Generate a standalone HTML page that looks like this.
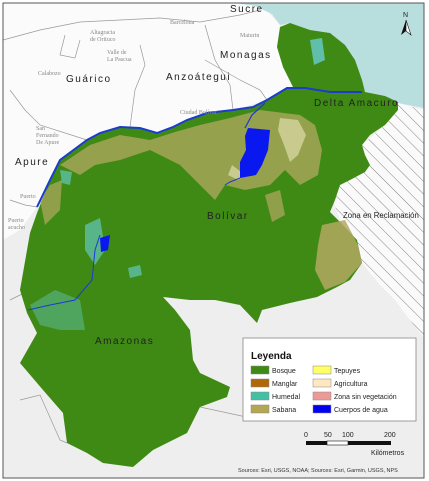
<!DOCTYPE html>
<html><head><meta charset="utf-8"><style>
html,body{margin:0;padding:0;background:#fff;}
svg{display:block;font-family:"Liberation Sans",sans-serif;}
.lbl{font-size:10px;fill:#222;letter-spacing:1.5px;}
.town{font-family:"Liberation Serif",serif;font-size:6px;fill:#888;}
</style></head><body>
<svg width="429" height="481" viewBox="0 0 429 481">
<defs>
<pattern id="hatch" patternUnits="userSpaceOnUse" width="9" height="9" patternTransform="rotate(-45)">
<rect width="9" height="9" fill="#fafafa"/><line x1="0" y1="0" x2="0" y2="9" stroke="#666" stroke-width="0.8"/></pattern>
</defs>
<rect x="0" y="0" width="429" height="481" fill="#fff"/>
<rect x="3" y="3" width="421" height="475" fill="#eeeeee"/>
<path d="M3,3 H260 L280,25 L277,47 L283,67 L293,87 L267,100 L233,110 L187,120 L157,133 L120,127 L87,140 L50,180 L37,207 L20,230 L3,240 Z" fill="#fbfbfb"/>
<path d="M235,3 H424 V108 L398,103 L385,96 L365,92 L355,60 L345,45 L330,33 L310,30 L290,23 L280,25 L272,14 L255,6 Z" fill="#b8dedd"/>
<path d="M398,103 L424,110 L424,338 L410,320 L395,300 L380,285 L362,263 L357,240 L340,220 L333,200 L340,185 L365,172 L362,145 L385,125 L398,110 Z" fill="url(#hatch)"/>
<g fill="none" stroke="#999" stroke-width="0.7">
<path d="M3,40 L40,30 L80,22 L120,20 L160,18 L200,22 L240,15 L260,10"/>
<path d="M65,35 L60,55 L75,58 L80,40"/>
<path d="M140,45 L145,65 L135,90 L130,127"/>
<path d="M205,25 L215,60 L230,85 L233,110"/>
<path d="M205,60 L240,80 L260,90 L267,100"/>
<path d="M10,90 L25,110 L40,125 L87,140"/>
<path d="M10,200 L25,205 L37,207"/>
<path d="M10,300 L30,290 M20,400 L40,395 L60,440 L67,443 M200,407 L260,420 L300,415"/>
</g>
<path d="M280,27 L290,23 L310,30 L330,33 L345,45 L355,60 L362,80 L365,92 L385,96 L398,102 L398,110 L385,125 L370,135 L362,145 L365,155 L370,165 L365,172 L350,180 L340,185 L335,200 L330,212 L340,222 L357,240 L362,263 L350,280 L337,287 L317,297 L290,303 L262,310 L257,323 L240,305 L215,300 L190,300 L163,297 L175,310 L190,330 L193,360 L200,373 L230,387 L227,397 L200,407 L187,433 L153,450 L133,467 L103,463 L87,453 L67,443 L63,413 L43,390 L20,363 L37,333 L27,313 L20,290 L30,233 L37,213 L50,180 L60,160 L87,140 L100,133 L120,127 L140,128 L157,133 L173,127 L187,120 L207,113 L233,110 L253,107 L267,100 L287,88 L293,87 L283,67 L277,47 Z" fill="#3f8a14"/>
<g fill="#b3a860">
<path opacity="0.75" d="M60,165 L90,145 L120,135 L150,140 L175,132 L200,125 L230,118 L260,110 L300,115 L315,125 L322,150 L318,175 L300,185 L285,170 L270,185 L245,190 L225,185 L215,200 L200,185 L180,165 L150,150 L120,160 L95,165 L80,175 Z"/>
<path opacity="0.85" d="M322,225 L345,220 L358,245 L362,263 L345,282 L325,290 L315,270 L318,245 Z"/>
<path opacity="0.7" d="M40,200 L50,185 L62,180 L60,210 L45,225 Z"/>
<path opacity="0.7" d="M265,195 L280,190 L285,215 L272,222 Z"/>
</g>
<g fill="#f4ecc4" opacity="0.55">
<path d="M280,118 L298,120 L306,135 L298,155 L290,162 L284,145 L278,130 Z"/>
<path d="M232,165 L245,175 L238,180 L228,175 Z"/>
</g>
<g fill="#5fbfa8">
<path d="M310,40 L322,38 L325,60 L314,65 Z"/>
<path d="M85,225 L100,218 L105,250 L95,265 L85,250 Z" opacity="0.8"/>
<path d="M30,305 L55,290 L80,300 L85,330 L60,330 L40,325 Z" opacity="0.5"/>
<path d="M60,170 L72,172 L70,185 L62,183 Z" opacity="0.8"/>
<path d="M128,268 L140,265 L142,275 L130,278 Z" opacity="0.8"/>
</g>
<g fill="#0a18f0">
<path d="M248,128 L270,130 L268,150 L262,165 L256,175 L240,178 L240,162 L246,150 L245,136 Z"/>
<path d="M100,238 L110,235 L108,250 L101,252 Z"/>
</g>
<g fill="none" stroke="#1c3bd0">
<path stroke-width="2" d="M37,207 L50,180 L60,160 L87,140 L100,133 L120,127 L140,128 L157,133 L173,127 L187,120 L207,113 L233,110 L253,107 L267,100 L287,88 L305,88 L330,92 L362,92"/>
<path stroke-width="1.2" d="M245,128 L252,115 L265,103"/>
<path stroke-width="1" d="M240,178 L230,182 L225,185"/>
<path stroke-width="1" d="M28,310 L50,305 L75,300 L92,280 L95,250 L100,235"/>
</g>
<g>
<text class="lbl" x="230" y="12">Sucre</text>
<text class="lbl" x="220" y="58">Monagas</text>
<text class="lbl" x="66" y="82">Guárico</text>
<text class="lbl" x="166" y="80">Anzoátegui</text>
<text class="lbl" x="314" y="106">Delta Amacuro</text>
<text class="lbl" x="15" y="165">Apure</text>
<text class="lbl" x="207" y="219">Bolívar</text>
<text class="lbl" x="95" y="344">Amazonas</text>
<text x="343" y="218" font-size="7.8" fill="#222">Zona en Reclamación</text>
</g>
<g>
<text class="town" x="240" y="37">Maturin</text>
<text class="town" x="90" y="34">Altagracia</text><text class="town" x="90" y="41">de Orituco</text>
<text class="town" x="107" y="54">Valle de</text><text class="town" x="107" y="61">La Pascua</text>
<text class="town" x="38" y="75">Calabozo</text>
<text class="town" x="180" y="114">Ciudad Bolívar</text>
<text class="town" x="36" y="130">San</text><text class="town" x="36" y="137">Fernando</text><text class="town" x="36" y="144">De Apure</text>
<text class="town" x="8" y="222">Puerto</text><text class="town" x="8" y="229">acucho</text>
<text class="town" x="20" y="198">Puerto</text>
<text class="town" x="170" y="24">Barcelona</text>
</g>
<g>
<text x="403" y="17" font-size="7" fill="#222">N</text>
<path d="M406,20 L401,35 L406,31 Z" fill="#111"/><path d="M406,20 L411,35 L406,31 Z" fill="#fff" stroke="#111" stroke-width="0.6"/>
</g>
<g>
<rect x="243" y="338" width="173" height="83" fill="#fff" stroke="#888" stroke-width="0.8"/>
<text x="251" y="359" font-size="10" font-weight="bold" fill="#111">Leyenda</text>
<g font-size="7" fill="#222">
<rect x="251" y="366" width="18" height="8" fill="#3f8a14" stroke="#888" stroke-width="0.5"/><text x="272" y="373">Bosque</text>
<rect x="251" y="379" width="18" height="8" fill="#b0690a" stroke="#888" stroke-width="0.5"/><text x="272" y="386">Manglar</text>
<rect x="251" y="392" width="18" height="8" fill="#42c0a4" stroke="#888" stroke-width="0.5"/><text x="272" y="399">Humedal</text>
<rect x="251" y="405" width="18" height="8" fill="#b5a652" stroke="#888" stroke-width="0.5"/><text x="272" y="412">Sabana</text>
<rect x="313" y="366" width="18" height="8" fill="#ffff66" stroke="#888" stroke-width="0.5"/><text x="334" y="373">Tepuyes</text>
<rect x="313" y="379" width="18" height="8" fill="#ffe8c0" stroke="#888" stroke-width="0.5"/><text x="334" y="386">Agricultura</text>
<rect x="313" y="392" width="18" height="8" fill="#ec9a98" stroke="#888" stroke-width="0.5"/><text x="334" y="399">Zona sin vegetación</text>
<rect x="313" y="405" width="18" height="8" fill="#0000f0" stroke="#888" stroke-width="0.5"/><text x="334" y="412">Cuerpos de agua</text>
</g>
</g>
<g font-size="7" fill="#222">
<text x="304" y="437">0</text><text x="324" y="437">50</text><text x="342" y="437">100</text><text x="384" y="437">200</text>
<rect x="306" y="441" width="21" height="4" fill="#111"/><rect x="327" y="441" width="21" height="4" fill="#fff" stroke="#111" stroke-width="0.6"/><rect x="348" y="441" width="43" height="4" fill="#111"/>
<text x="371" y="455">Kilómetros</text>
</g>
<text x="238" y="472" font-size="5.5" fill="#333">Sources: Esri, USGS, NOAA; Sources: Esri, Garmin, USGS, NPS</text>
<rect x="3" y="3" width="421" height="475" fill="none" stroke="#555" stroke-width="1"/>
</svg>
</body></html>
